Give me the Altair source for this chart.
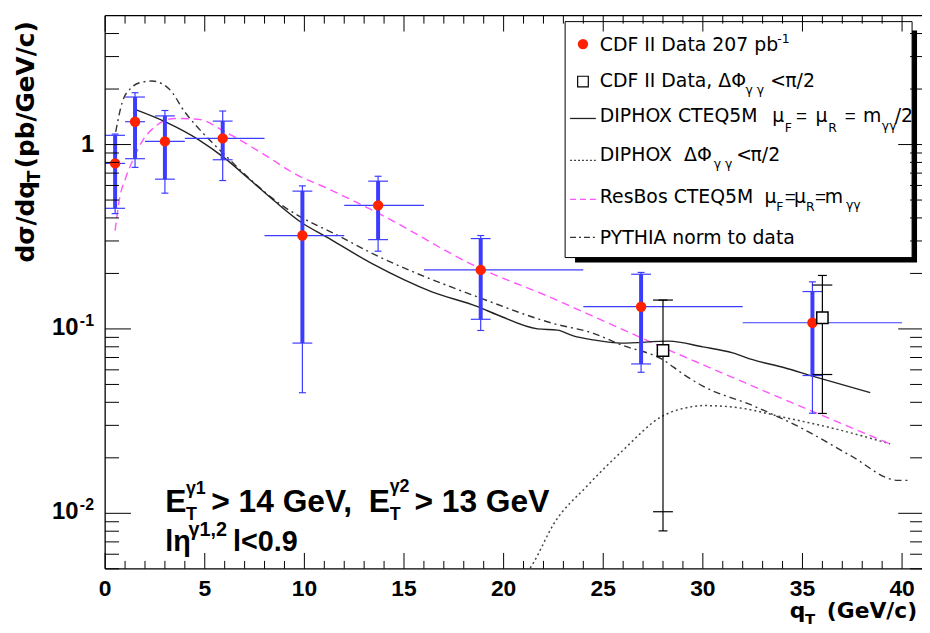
import altair as alt
import pandas as pd

# ---------------- data ----------------
bin_lo = [0, 1, 2, 4, 8, 12, 16, 24, 32]
bin_hi = [1, 2, 4, 8, 12, 16, 24, 32, 40]
data_qt = [0.5, 1.5, 3.0, 5.9, 9.9, 13.7, 18.85, 26.9, 35.5]
data_xs = [0.79, 1.33, 1.04, 1.08, 0.321, 0.468, 0.209, 0.132, 0.108]
data_stat_lo = [0.451, 0.838, 0.649, 0.827, 0.0838, 0.305, 0.1128, 0.0646, 0.0559]
data_stat_hi = [1.122, 1.81, 1.43, 1.34, 0.559, 0.633, 0.309, 0.198, 0.1595]
data_tot_lo = [0.422, 0.752, 0.545, 0.638, 0.0451, 0.264, 0.0981, 0.0582, 0.0349]
data_tot_hi = [1.14, 1.91, 1.53, 1.52, 0.597, 0.673, 0.321, 0.2025, 0.180]

dphi_qt = [28.0, 36.0]
dphi_xs = [0.0764, 0.115]
dphi_stat_lo = [0.0102, 0.0566]
dphi_stat_hi = [0.1434, 0.173]
dphi_tot_lo = [0.00803, 0.0348]
dphi_tot_hi = [0.1434, 0.195]

diphox_qt = [1.5, 3.0, 4.7, 6.0, 7.3, 8.5, 9.85, 11.1, 13.4, 16.4, 18.7, 19.7, 21.7,
             22.7, 23.5, 24.5, 25.9, 28.3, 30.0, 31.5, 32.5, 34.1, 35.5, 38.4]
diphox_val = [1.55, 1.33, 1.06, 0.844, 0.64, 0.494, 0.378, 0.316, 0.226, 0.159, 0.132,
              0.119, 0.100, 0.0985, 0.0917, 0.0872, 0.0838, 0.0859, 0.0799, 0.0741,
              0.0681, 0.0616, 0.0555, 0.0451]

dphicurve_qt = [21.2, 21.5, 22.5, 24.2, 25.9, 28.0, 29.3, 30.0, 31.6, 34.1, 36.6, 39.4]
dphicurve_val = [0.0048, 0.0054, 0.0087, 0.0141, 0.0215, 0.0338, 0.0376, 0.0384, 0.0376,
                 0.0331, 0.0288, 0.0238]

resbos_qt = [0.5, 0.7, 1.03, 1.36, 1.85, 2.5, 3.5, 4.7, 6.0, 8.0, 9.6, 11.1, 13.8,
             18.7, 22.5, 24.5, 27.5, 32.5, 39.4]
resbos_val = [0.341, 0.494, 0.659, 0.81, 1.038, 1.25, 1.385, 1.37, 1.175, 0.88, 0.687,
              0.582, 0.419, 0.216, 0.146, 0.117, 0.0838, 0.049, 0.0238]

pythia_qt = [0.53, 0.86, 1.27, 1.85, 2.35, 3.2, 4.0, 5.0, 6.0, 7.2, 8.8, 10.5, 11.1,
             13.8, 18.7, 22.5, 24.5, 25.9, 28.0, 29.0, 30.0, 32.5, 35.0, 37.4, 39.8, 40.3]
pythia_val = [1.17, 1.70, 2.01, 2.18, 2.21, 2.01, 1.50, 1.127, 0.88, 0.66, 0.474, 0.37,
              0.345, 0.245, 0.149, 0.107, 0.0947, 0.082, 0.068, 0.057, 0.049, 0.0384,
              0.0288, 0.0206, 0.0151, 0.0151]

x_major = [0, 5, 10, 15, 20, 25, 30, 35, 40]
x_labels = ["0", "5", "10", "15", "20", "25", "30", "35", "40"]
x_minor = [1, 2, 3, 4, 6, 7, 8, 9, 11, 12, 13, 14, 16, 17, 18, 19, 21, 22, 23, 24,
           26, 27, 28, 29, 31, 32, 33, 34, 36, 37, 38, 39]
y_major = [0.01, 0.1, 1]
y_minor = [0.005, 0.006, 0.007, 0.008, 0.009, 0.02, 0.03, 0.04, 0.05, 0.06, 0.07,
           0.08, 0.09, 0.2, 0.3, 0.4, 0.5, 0.6, 0.7, 0.8, 0.9, 2, 3, 4]
y_label_vals = [0.1, 0.01]
y_label_sup = ["-1", "-2"]

# ---------------- styling / layout ----------------
RED = "#ff2200"
BLUE = "#3c3cff"
PINK = "#ff55ff"
W, H = 824, 558
OX, OY = 106, 13          # page position of plot origin
XS = alt.Scale(domain=[0, 41], nice=False, zero=False)
YS = alt.Scale(type="log", domain=[0.005, 5], nice=False)
ONE = pd.DataFrame({"k": [0]})


def X(f):
    return alt.X(f"{f}:Q", scale=XS, axis=None)


def Y(f):
    return alt.Y(f"{f}:Q", scale=YS, axis=None)


def txt(s, x, y, size, font="DejaVu Sans", weight="normal", angle=0, align="left"):
    return alt.Chart(ONE).mark_text(text=s, font=font, fontSize=size, fontWeight=weight,
                                    angle=angle, align=align, baseline="alphabetic",
                                    color="black").encode(
        x=alt.value(x - OX), y=alt.value(y - OY))


def hseg(x1, x2, y, **kw):
    return alt.Chart(ONE).mark_rule(**kw).encode(
        x=alt.value(x1 - OX), x2=alt.value(x2 - OX), y=alt.value(y - OY))


layers = []

# ---------------- theory curves ----------------
def curve(qs, vs, **kw):
    df = pd.DataFrame({"q": qs, "v": vs})
    return alt.Chart(df).mark_line(interpolate="monotone", clip=True, **kw).encode(
        x=X("q"), y=Y("v"))


layers.append(curve(dphicurve_qt, dphicurve_val, color="#444444", strokeWidth=1.5,
                    strokeDash=[2, 3]))
layers.append(curve(pythia_qt, pythia_val, color="#333333", strokeWidth=1.4,
                    strokeDash=[7, 4, 2, 4]))
layers.append(curve(resbos_qt, resbos_val, color=PINK, strokeWidth=1.4, strokeDash=[8, 5]))
layers.append(curve(diphox_qt, diphox_val, color="#222222", strokeWidth=1.4))

# ---------------- CDF data with errors ----------------
pts = pd.DataFrame({"q": data_qt, "lo": bin_lo, "hi": bin_hi, "v": data_xs,
                    "slo": data_stat_lo, "shi": data_stat_hi,
                    "tlo": data_tot_lo, "thi": data_tot_hi})
layers.append(alt.Chart(pts).mark_rule(color=BLUE, strokeWidth=1.2).encode(
    x=X("lo"), x2="hi", y=Y("v")))
layers.append(alt.Chart(pts).mark_rule(color=BLUE, strokeWidth=1.2).encode(
    x=X("q"), y=Y("tlo"), y2="thi"))
layers.append(alt.Chart(pts).mark_rule(color=BLUE, strokeWidth=4).encode(
    x=X("q"), y=Y("slo"), y2="shi"))
scap = pd.DataFrame({"q": data_qt + data_qt, "y": data_stat_lo + data_stat_hi})
tcap = pd.DataFrame({"q": data_qt + data_qt, "y": data_tot_lo + data_tot_hi})
layers.append(alt.Chart(scap).mark_tick(orient="horizontal", size=20, thickness=1.2,
                                         color=BLUE, opacity=1).encode(x=X("q"), y=Y("y")))
layers.append(alt.Chart(tcap).mark_tick(orient="horizontal", size=7, thickness=1.2,
                                         color=BLUE, opacity=1).encode(x=X("q"), y=Y("y")))
layers.append(alt.Chart(pts).mark_circle(size=110, color=RED, opacity=1).encode(
    x=X("q"), y=Y("v")))

# ---------------- dPhi < pi/2 data ----------------
sq = pd.DataFrame({"q": dphi_qt, "v": dphi_xs, "tlo": dphi_tot_lo, "thi": dphi_tot_hi})
layers.append(alt.Chart(sq).mark_rule(color="black", strokeWidth=1.2).encode(
    x=X("q"), y=Y("tlo"), y2="thi"))
sqs = pd.DataFrame({"q": dphi_qt + dphi_qt, "y": dphi_stat_lo + dphi_stat_hi})
sqt = pd.DataFrame({"q": dphi_qt + dphi_qt, "y": dphi_tot_lo + dphi_tot_hi})
layers.append(alt.Chart(sqs).mark_tick(orient="horizontal", size=20, thickness=1.2,
                                        color="black", opacity=1).encode(x=X("q"), y=Y("y")))
layers.append(alt.Chart(sqt).mark_tick(orient="horizontal", size=9, thickness=1.2,
                                        color="black", opacity=1).encode(x=X("q"), y=Y("y")))
layers.append(alt.Chart(sq).mark_square(size=130, fill="white", stroke="black",
                                         strokeWidth=1.5, opacity=1).encode(
    x=X("q"), y=Y("v")))

# ---------------- legend ----------------
layers.append(alt.Chart(ONE).mark_rect(color="black").encode(
    x=alt.value(580 - OX), x2=alt.value(925 - OX), y=alt.value(28 - OY), y2=alt.value(262 - OY)))
layers.append(alt.Chart(ONE).mark_rect(fill="white", stroke="black", strokeWidth=1).encode(
    x=alt.value(570 - OX), x2=alt.value(920 - OX), y=alt.value(19 - OY), y2=alt.value(257 - OY)))
layers.append(alt.Chart(ONE).mark_circle(size=110, color=RED, opacity=1).encode(
    x=alt.value(588 - OX), y=alt.value(41.7 - OY)))
layers.append(alt.Chart(ONE).mark_square(size=115, fill="white", stroke="black",
                                          strokeWidth=1.2, opacity=1).encode(
    x=alt.value(588 - OX), y=alt.value(79.5 - OY)))
layers.append(hseg(575, 601, 116.7, color="#222222", strokeWidth=1.3))
layers.append(hseg(575, 601, 159.0, color="#444444", strokeWidth=1.3, strokeDash=[2, 2]))
layers.append(hseg(575, 601, 198.3, color=PINK, strokeWidth=1.3, strokeDash=[6, 4]))
layers.append(hseg(575, 601, 236.7, color="#333333", strokeWidth=1.3, strokeDash=[6, 3, 2, 3]))

LS, SS = 19, 12.5
LF = "DejaVu Sans"
EQ = "Liberation Sans"
legend_text = [
    ("CDF II Data 207 pb", 605, 48.3, LS, LF), ("-1", 784, 41, SS, LF),
    ("CDF II Data, ΔΦ", 605, 85, LS, LF), ("γ γ", 752, 92, SS, LF),
    ("<", 777, 85, LS, LF), ("π/2", 792, 85, LS, LF),
    ("DIPHOX CTEQ5M", 605, 120.7, LS, LF), ("μ", 779, 120.7, LS, LF),
    ("F", 791.5, 130.5, SS, LF), ("=", 803, 120.7, LS, EQ), ("μ", 822.5, 120.7, LS, LF),
    ("R", 835.5, 130.5, SS, LF), ("=", 852, 120.7, LS, EQ), ("m", 870.5, 120.7, LS, LF),
    ("γγ", 889.5, 128, SS, LF), ("/2", 902.5, 120.7, LS, LF),
    ("DIPHOX", 605, 159.3, LS, LF), ("ΔΦ", 690, 159.3, LS, LF), ("γ γ", 720, 166.5, SS, LF),
    ("<", 742.5, 159.3, LS, LF), ("π/2", 757, 159.3, LS, LF),
    ("ResBos CTEQ5M", 605, 201.7, LS, LF), ("μ", 771, 201.7, LS, LF),
    ("F", 783, 210.5, SS, LF), ("=", 791.5, 201.7, LS, EQ), ("μ", 801, 201.7, LS, LF),
    ("R", 813, 210.5, SS, LF), ("=", 822, 201.7, LS, EQ), ("m", 832, 201.7, LS, LF),
    ("γγ", 853.3, 208.5, SS, LF),
    ("PYTHIA norm to data", 605, 243.3, LS, LF),
]
for s, x, y, size, font in legend_text:
    layers.append(txt(s, x, y, size, font=font))

# ---------------- frame and inward ticks ----------------
layers.append(alt.Chart(ONE).mark_rule(color="black", strokeWidth=1.3).encode(
    x=alt.value(0), y=alt.value(0), y2=alt.value(H)))
layers.append(alt.Chart(ONE).mark_rule(color="black", strokeWidth=1.3).encode(
    x=alt.value(0), x2=alt.value(W + 10), y=alt.value(0)))
layers.append(alt.Chart(ONE).mark_rule(color="black", strokeWidth=1.3).encode(
    x=alt.value(0), x2=alt.value(W + 10), y=alt.value(H)))

xmaj = pd.DataFrame({"v": x_major, "t": x_labels})
xmin = pd.DataFrame({"v": x_minor})
ymaj = pd.DataFrame({"v": y_major})
ymin = pd.DataFrame({"v": y_minor})
RE = W + 2  # right frame (just outside the visible page)
layers.append(alt.Chart(xmaj).mark_rule(color="black", strokeWidth=1).encode(
    x=X("v"), y=alt.value(H), y2=alt.value(H - 16)))
layers.append(alt.Chart(xmaj).mark_rule(color="black", strokeWidth=1).encode(
    x=X("v"), y=alt.value(0), y2=alt.value(16)))
layers.append(alt.Chart(xmin).mark_rule(color="black", strokeWidth=1).encode(
    x=X("v"), y=alt.value(H), y2=alt.value(H - 8)))
layers.append(alt.Chart(xmin).mark_rule(color="black", strokeWidth=1).encode(
    x=X("v"), y=alt.value(0), y2=alt.value(8)))
layers.append(alt.Chart(ymaj).mark_rule(color="black", strokeWidth=1).encode(
    y=Y("v"), x=alt.value(0), x2=alt.value(26)))
layers.append(alt.Chart(ymin).mark_rule(color="black", strokeWidth=1).encode(
    y=Y("v"), x=alt.value(0), x2=alt.value(14)))
layers.append(alt.Chart(ymaj).mark_rule(color="black", strokeWidth=1).encode(
    y=Y("v"), x=alt.value(RE - 26), x2=alt.value(RE + 6)))
layers.append(alt.Chart(ymin).mark_rule(color="black", strokeWidth=1).encode(
    y=Y("v"), x=alt.value(RE - 14), x2=alt.value(RE + 6)))

# ---------------- tick labels ----------------
layers.append(alt.Chart(xmaj).mark_text(font="Liberation Sans", fontSize=23,
                                        fontWeight="bold", align="center",
                                        baseline="alphabetic", color="black").encode(
    x=X("v"), y=alt.value(H + 27), text="t:N"))
ylab1 = pd.DataFrame({"v": [1], "t": ["1"]})
layers.append(alt.Chart(ylab1).mark_text(font="Liberation Sans", fontSize=24,
                                         fontWeight="bold", align="right",
                                         baseline="middle", dy=1, color="black").encode(
    y=Y("v"), x=alt.value(-11), text="t:N"))
ylab = pd.DataFrame({"v": y_label_vals, "b": ["10", "10"], "s": y_label_sup})
layers.append(alt.Chart(ylab).mark_text(font="Liberation Sans", fontSize=24,
                                        fontWeight="bold", align="right",
                                        baseline="middle", dy=-1, color="black").encode(
    y=Y("v"), x=alt.value(-27), text="b:N"))
layers.append(alt.Chart(ylab).mark_text(font="Liberation Sans", fontSize=16,
                                        fontWeight="bold", align="left",
                                        baseline="middle", dy=-8, color="black").encode(
    y=Y("v"), x=alt.value(-25.5), text="s:N"))

# ---------------- axis titles ----------------
TF = "DejaVu Sans"
layers.append(txt("q", 796.7, 621, 22, font=TF, weight="bold"))
layers.append(txt("T", 812, 627, 15, font=TF, weight="bold"))
layers.append(txt("(GeV/c)", 834, 621, 22, font=TF, weight="bold"))
layers.append(txt("dσ/dq", 34, 262, 25, font=TF, weight="bold", angle=270))
layers.append(txt("T", 40, 181, 17, font=TF, weight="bold", angle=270))
layers.append(txt("(pb/GeV/c)", 34, 167, 25, font=TF, weight="bold", angle=270))

# ---------------- cut annotation ----------------
AF = "Liberation Sans"
annot = [
    ("E", 166.7, 513.3, 32), ("T", 187.5, 522, 18), ("γ1", 187.5, 496, 18),
    ("> 14 GeV,", 213, 513.3, 32), ("E", 372, 513.3, 32), ("T", 393, 522, 18),
    ("γ2", 393, 493, 18), ("> 13 GeV", 418, 513.3, 32),
    ("lη", 166.7, 553.3, 29), ("γ1,2", 190, 538, 20), ("l<0.9", 235, 553.3, 29),
]
for s, x, y, size in annot:
    layers.append(txt(s, x, y, size, font=AF, weight="bold"))

chart = alt.layer(*layers).properties(
    width=W, height=H,
    autosize=alt.AutoSizeParams(type="none"),
    padding={"left": 98, "top": 5, "right": 0, "bottom": 62},
    background="white",
).configure_view(stroke=None)

chart.save("out.html", embed_options={"renderer": "svg", "actions": False})
